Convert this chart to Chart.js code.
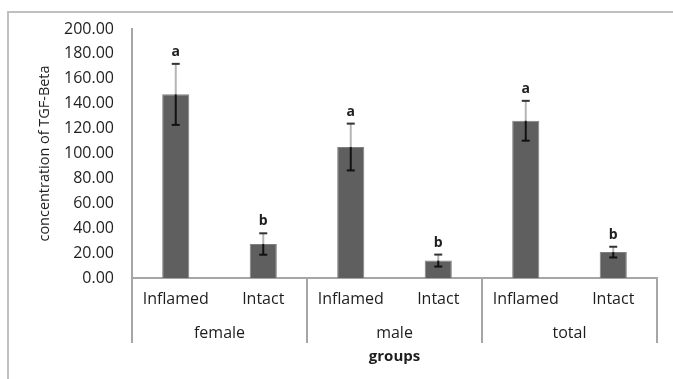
<!DOCTYPE html>
<html>
<head>
<meta charset="utf-8">
<script src="https://cdn.jsdelivr.net/npm/chart.js@4/dist/chart.umd.min.js"></script>
<style>
  html, body { margin: 0; padding: 0; background: #fff; }
  #wrap { position: relative; width: 673px; height: 379px; }
</style>
</head>
<body>
<div id="wrap"><canvas id="chart" width="673" height="379"></canvas></div>
<script>
// ── Data ──────────────────────────────────────────────────────────
const categories = ['Inflamed', 'Intact', 'Inflamed', 'Intact', 'Inflamed', 'Intact'];
const groups = ['female', 'male', 'total'];
const means = [147.5, 27.3, 105.2, 14.0, 126.3, 20.8];
const errors = [24.5, 8.6, 18.8, 4.8, 16.0, 4.3];
const letters = ['a', 'b', 'a', 'b', 'a', 'b'];
const yTitle = 'concentration of TGF-Beta';
const xTitle = 'groups';

const FONT = "'Open Sans', 'DejaVu Sans', sans-serif";
const AXIS = '#a6a6a6';
const TEXT = '#1e1e1e';

// frame, error bars, significance letters, group row
const extras = {
  id: 'extras',
  beforeDraw(chart) {
    const ctx = chart.ctx;
    ctx.save();
    ctx.strokeStyle = '#c0c0c0';
    ctx.lineWidth = 2;
    ctx.beginPath();
    ctx.moveTo(8, 379);
    ctx.lineTo(8, 12);
    ctx.lineTo(673, 12);
    ctx.stroke();
    ctx.restore();
  },
  afterDatasetsDraw(chart) {
    const ctx = chart.ctx;
    const y = chart.scales.y;
    const x = chart.scales.x;
    const area = chart.chartArea;
    const meta = chart.getDatasetMeta(0);
    ctx.save();
    meta.data.forEach((bar, i) => {
      const cx = bar.x;
      const top = y.getPixelForValue(means[i] + errors[i]);
      const bot = y.getPixelForValue(means[i] - errors[i]);
      const mid = bar.y;
      // upper whisker
      ctx.strokeStyle = '#b5b5b5';
      ctx.lineWidth = 2;
      ctx.beginPath(); ctx.moveTo(cx, mid); ctx.lineTo(cx, top); ctx.stroke();
      ctx.strokeStyle = '#333';
      ctx.beginPath(); ctx.moveTo(cx - 4, top); ctx.lineTo(cx + 4, top); ctx.stroke();
      // lower whisker
      ctx.strokeStyle = '#111';
      ctx.beginPath(); ctx.moveTo(cx, mid); ctx.lineTo(cx, bot); ctx.stroke();
      ctx.beginPath(); ctx.moveTo(cx - 4, bot); ctx.lineTo(cx + 4, bot); ctx.stroke();
      // letter
      ctx.fillStyle = TEXT;
      ctx.font = 'bold 14px ' + FONT;
      ctx.textAlign = 'center';
      ctx.textBaseline = 'middle';
      ctx.fillText(letters[i], cx, top - 12);
    });

    // group dividers and names
    const per = categories.length / groups.length;
    ctx.strokeStyle = AXIS;
    ctx.lineWidth = 2;
    for (let g = 0; g <= groups.length; g++) {
      let px;
      if (g === 0) px = area.left;
      else if (g === groups.length) px = area.right;
      else px = (x.getPixelForValue(g * per - 1) + x.getPixelForValue(g * per)) / 2;
      ctx.beginPath(); ctx.moveTo(px, area.bottom); ctx.lineTo(px, area.bottom + 65); ctx.stroke();
    }
    ctx.fillStyle = TEXT;
    ctx.font = '16px ' + FONT;
    ctx.textAlign = 'center';
    ctx.textBaseline = 'middle';
    groups.forEach((name, g) => {
      const a = x.getPixelForValue(g * per);
      const b = x.getPixelForValue(g * per + per - 1);
      ctx.fillText(name, (a + b) / 2, area.bottom + 55);
    });
    ctx.font = 'bold 15px ' + FONT;
    ctx.fillText(xTitle, (area.left + area.right) / 2, area.bottom + 79);

    // y title, squeezed along its length like the source image
    ctx.font = '14px ' + FONT;
    const w = ctx.measureText(yTitle).width;
    ctx.translate(45, (area.top + area.bottom) / 2);
    ctx.rotate(-Math.PI / 2);
    ctx.scale(176 / w, 1);
    ctx.fillText(yTitle, 0, 0);
    ctx.restore();
  }
};

new Chart(document.getElementById('chart'), {
  type: 'bar',
  data: {
    labels: categories,
    datasets: [{
      data: means,
      backgroundColor: '#5f5f5f',
      borderColor: '#808080',
      borderWidth: 1,
      barPercentage: 0.31,
      categoryPercentage: 1,
    }],
  },
  options: {
    responsive: false,
    animation: false,
    layout: { padding: { top: 29, right: 16, bottom: 0, left: 0 } },
    plugins: { legend: { display: false }, tooltip: { enabled: false } },
    scales: {
      x: {
        grid: { display: false, drawTicks: false },
        border: { color: AXIS, width: 2 },
        ticks: { color: TEXT, font: { family: FONT, size: 16 }, padding: 12, maxRotation: 0 },
        afterFit: s => { s.height = 101; },
      },
      y: {
        min: 0, max: 200,
        grid: { display: false, drawTicks: false },
        border: { color: AXIS, width: 2 },
        ticks: { stepSize: 20, color: TEXT, font: { family: FONT, size: 16 }, padding: 18, callback: v => v.toFixed(2) },
        afterFit: s => { s.width = 132; },
      },
    },
  },
  plugins: [extras],
});
</script>
</body>
</html>
